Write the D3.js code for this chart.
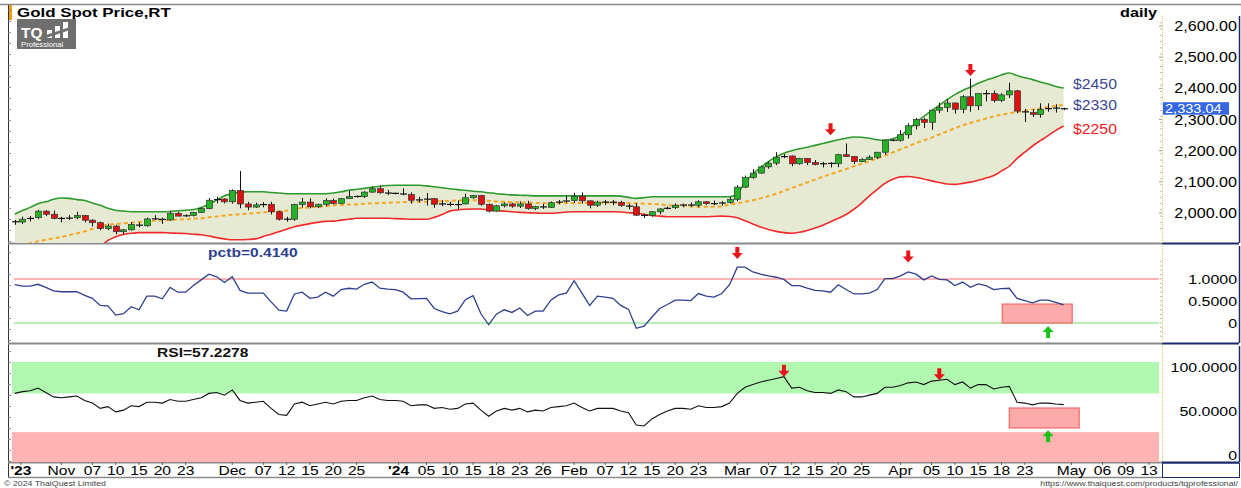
<!DOCTYPE html>
<html><head><meta charset="utf-8">
<script src="https://cdn.jsdelivr.net/npm/d3@7"></script>
<style>body{margin:0;background:#fff}svg{display:block}text{font-family:Arial,"Liberation Sans",sans-serif}</style>
</head><body><svg id="c" width="1241" height="488"></svg>
<script>
// ---------- DATA ----------
const dates = ["2023-10-24","2023-10-25","2023-10-26","2023-10-27","2023-10-30","2023-10-31","2023-11-01","2023-11-02","2023-11-03","2023-11-06","2023-11-07","2023-11-08","2023-11-09","2023-11-10","2023-11-13","2023-11-14","2023-11-15","2023-11-16","2023-11-17","2023-11-20","2023-11-21","2023-11-22","2023-11-23","2023-11-24","2023-11-27","2023-11-28","2023-11-29","2023-11-30","2023-12-01","2023-12-04","2023-12-05","2023-12-06","2023-12-07","2023-12-08","2023-12-11","2023-12-12","2023-12-13","2023-12-14","2023-12-15","2023-12-18","2023-12-19","2023-12-20","2023-12-21","2023-12-22","2023-12-25","2023-12-26","2023-12-27","2023-12-28","2023-12-29","2024-01-01","2024-01-02","2024-01-03","2024-01-04","2024-01-05","2024-01-08","2024-01-09","2024-01-10","2024-01-11","2024-01-12","2024-01-15","2024-01-16","2024-01-17","2024-01-18","2024-01-19","2024-01-22","2024-01-23","2024-01-24","2024-01-25","2024-01-26","2024-01-29","2024-01-30","2024-01-31","2024-02-01","2024-02-02","2024-02-05","2024-02-06","2024-02-07","2024-02-08","2024-02-09","2024-02-12","2024-02-13","2024-02-14","2024-02-15","2024-02-16","2024-02-19","2024-02-20","2024-02-21","2024-02-22","2024-02-23","2024-02-26","2024-02-27","2024-02-28","2024-02-29","2024-03-01","2024-03-04","2024-03-05","2024-03-06","2024-03-07","2024-03-08","2024-03-11","2024-03-12","2024-03-13","2024-03-14","2024-03-15","2024-03-18","2024-03-19","2024-03-20","2024-03-21","2024-03-22","2024-03-25","2024-03-26","2024-03-27","2024-03-28","2024-03-29","2024-04-01","2024-04-02","2024-04-03","2024-04-04","2024-04-05","2024-04-08","2024-04-09","2024-04-10","2024-04-11","2024-04-12","2024-04-15","2024-04-16","2024-04-17","2024-04-18","2024-04-19","2024-04-22","2024-04-23","2024-04-24","2024-04-25","2024-04-26","2024-04-29","2024-04-30"];
const open  = [1973,1971,1980,1985,2006,1996,1983,1982,1985,1992,1977,1969,1950,1958,1940,1946,1963,1959,1981,1981,1978,1999,1990,1992,2002,2014,2041,2045,2036,2072,2029,2019,2026,2028,2004,1980,1980,2027,2035,2020,2028,2040,2031,2046,2053,2053,2067,2078,2065,2063,2063,2059,2041,2043,2046,2028,2030,2025,2029,2049,2056,2028,2006,2023,2029,2022,2029,2014,2021,2018,2033,2037,2040,2054,2039,2025,2035,2035,2034,2024,2020,1993,1992,2004,2013,2017,2025,2026,2025,2036,2030,2030,2034,2044,2083,2114,2128,2148,2160,2179,2183,2158,2175,2162,2156,2160,2158,2187,2181,2165,2172,2179,2195,2234,2233,2251,2280,2300,2291,2330,2339,2353,2333,2373,2344,2383,2383,2361,2379,2392,2327,2322,2316,2333,2337,2336];
const high  = [1978,1988,1990,2010,2009,2008,1988,1993,2004,1994,1980,1972,1966,1962,1949,1971,1970,1985,1993,1985,2007,2004,1996,2004,2018,2048,2052,2047,2076,2135,2036,2033,2035,2036,2007,1988,2030,2048,2047,2030,2047,2046,2048,2071,2056,2070,2084,2088,2074,2065,2079,2066,2052,2064,2048,2041,2036,2041,2062,2058,2058,2030,2026,2034,2033,2037,2039,2023,2029,2037,2042,2055,2065,2066,2040,2040,2042,2042,2039,2029,2032,1997,2006,2015,2021,2031,2030,2034,2041,2038,2040,2038,2051,2089,2120,2141,2152,2165,2195,2189,2184,2177,2176,2170,2164,2163,2190,2223,2183,2176,2185,2195,2236,2237,2266,2288,2305,2305,2331,2354,2365,2354,2378,2431,2384,2394,2393,2384,2418,2395,2334,2333,2352,2352,2349,2338];
const low   = [1962,1965,1973,1980,1990,1980,1970,1978,1980,1970,1957,1945,1945,1932,1932,1944,1954,1956,1978,1965,1975,1990,1988,1989,2000,2012,2031,2031,2030,2015,2009,2016,2018,1995,1976,1972,1975,2017,2015,2016,2021,2028,2030,2045,2050,2048,2065,2062,2058,2060,2057,2030,2034,2024,2017,2022,2021,2013,2028,2046,2023,2002,2004,2018,2017,2016,2011,2009,2013,2017,2028,2032,2032,2030,2015,2020,2026,2025,2020,2012,1990,1984,1988,1996,2012,2013,2018,2020,2018,2026,2025,2024,2030,2038,2080,2110,2126,2142,2154,2176,2150,2155,2154,2153,2146,2146,2147,2180,2157,2163,2170,2173,2187,2230,2229,2239,2268,2273,2267,2320,2324,2319,2320,2325,2330,2358,2355,2356,2369,2320,2292,2308,2306,2325,2322,2330];
const close = [1971,1980,1985,2006,1996,1983,1982,1985,1992,1977,1969,1950,1958,1940,1946,1963,1959,1981,1981,1978,1999,1990,1992,2002,2014,2041,2045,2036,2072,2029,2019,2026,2028,2004,1980,1980,2027,2035,2020,2028,2040,2031,2046,2053,2053,2067,2078,2065,2063,2063,2059,2041,2043,2046,2028,2030,2025,2029,2049,2056,2028,2006,2023,2029,2022,2029,2014,2021,2018,2033,2037,2040,2054,2039,2025,2035,2035,2034,2024,2020,1993,1992,2004,2013,2017,2025,2026,2025,2036,2030,2030,2034,2044,2083,2114,2128,2148,2160,2179,2183,2158,2175,2162,2156,2160,2158,2187,2181,2165,2172,2179,2195,2234,2233,2251,2280,2300,2291,2330,2339,2353,2333,2373,2344,2383,2383,2361,2379,2392,2327,2322,2316,2333,2337,2336,2333.04];
const bbUpper = [1997,2008,2018,2030,2036,2044,2048,2047,2043,2040,2032,2025,2015,2009,2006,2004,2004,2004,2004,2004,2005,2007,2009,2011,2018,2028,2042,2055,2063,2067,2068,2068,2068,2066,2064,2062,2062,2062,2062,2062,2062,2064,2068,2073,2076,2079,2083,2086,2088,2089,2089,2089,2089,2087,2084,2081,2078,2075,2073,2070,2068,2065,2062,2060,2058,2057,2056,2055,2055,2055,2055,2055,2055,2055,2055,2055,2055,2055,2054,2050,2047,2049,2052,2052,2052,2052,2052,2052,2052,2052,2052,2052,2052,2062,2098,2125,2146,2165,2180,2192,2200,2206,2211,2217,2223,2229,2235,2240,2244,2243,2240,2235,2233,2238,2248,2268,2290,2310,2328,2346,2364,2380,2393,2404,2416,2426,2434,2443,2449,2441,2434,2428,2420,2414,2406,2401];
const bbMiddle = [1890,1897,1903,1909,1914,1919,1923,1929,1935,1941,1949,1957,1962,1965,1967,1969,1971,1973,1975,1976,1978,1979,1980,1982,1983,1986,1989,1992,1994,1996,1998,2000,2002,2004,2006,2008,2014,2016,2018,2020,2022,2025,2026,2027,2028,2030,2031,2032,2033,2034,2035,2036,2036,2036,2037,2038,2039,2040,2041,2041,2040,2039,2037,2036,2035,2034,2033,2032,2032,2031,2031,2031,2032,2032,2033,2033,2033,2033,2033,2032,2031,2030,2029,2028,2025,2024,2023,2021,2020,2020,2020,2022,2027,2031,2036,2041,2047,2054,2062,2071,2080,2089,2098,2107,2116,2125,2133,2141,2150,2158,2166,2175,2184,2194,2204,2214,2224,2233,2242,2252,2262,2272,2281,2289,2296,2303,2310,2315,2320,2324,2328,2332,2336,2340,2344,2347];
const bbLower = [1780,1790,1795,1800,1805,1815,1825,1840,1855,1868,1880,1892,1912,1924,1931,1935,1937,1937,1937,1937,1936,1935,1934,1932,1930,1926,1921,1917,1914,1914,1915,1917,1925,1932,1940,1948,1956,1961,1966,1970,1973,1974,1977,1980,1983,1983,1983,1983,1983,1982,1981,1980,1980,1980,1986,1995,2006,2010,2012,2013,2013,2010,2008,2006,2004,2002,2001,2000,1999,1999,2001,2003,2004,2004,2004,2004,2004,2004,2003,2001,1999,1996,1992,1990,1988,1988,1988,1988,1988,1988,1989,1990,1989,1985,1975,1965,1955,1947,1941,1937,1935,1938,1944,1952,1961,1972,1983,1995,2012,2032,2055,2075,2095,2108,2116,2117,2114,2109,2103,2098,2093,2092,2095,2099,2105,2112,2120,2135,2150,2175,2195,2215,2232,2248,2265,2279];
const pctb = [0.87,0.84,0.84,0.88,0.81,0.73,0.71,0.71,0.71,0.63,0.56,0.40,0.39,0.18,0.21,0.37,0.30,0.61,0.61,0.55,0.81,0.70,0.70,0.85,0.98,1.11,1.05,0.92,1.05,0.74,0.68,0.68,0.68,0.48,0.29,0.27,0.66,0.70,0.56,0.59,0.70,0.61,0.76,0.79,0.77,0.88,0.93,0.79,0.77,0.76,0.70,0.55,0.555,0.56,0.33,0.26,0.21,0.27,0.53,0.62,0.21,-0.04,0.20,0.30,0.24,0.34,0.17,0.27,0.27,0.52,0.64,0.68,0.96,0.68,0.40,0.61,0.59,0.56,0.40,0.31,-0.12,-0.07,0.13,0.33,0.42,0.52,0.52,0.51,0.67,0.61,0.59,0.67,0.87,1.27,1.27,1.16,1.11,1.07,1.04,0.99,0.85,0.85,0.79,0.74,0.73,0.70,0.87,0.76,0.66,0.66,0.68,0.76,1.01,1.01,1.07,1.16,1.11,0.98,1.07,0.99,0.98,0.85,0.93,0.81,0.89,0.85,0.76,0.78,0.79,0.56,0.51,0.46,0.52,0.52,0.47,0.414];
const rsi = [70,72,73,76,71,66,65,66,67,62,59,53,55,49,51,56,55,60,60,59,63,61,61,63,65,70,71,68,74,62,59,60,61,53,46,45,58,60,56,58,60,58,61,62,62,65,67,63,62,62,61,56,57,57,53,54,52,53,58,59,51,44,50,53,51,53,49,51,50,54,55,56,59,54,50,53,53,53,50,48,34,33,41,46,50,53,53,52,56,54,54,55,59,70,77,80,83,85,87,89,76,77,73,71,71,70,74,72,66,66,68,70,77,77,79,82,83,80,84,85,86,80,83,76,80,80,75,77,78,60,59,57,59,59,58,57.2278];
const priceTicks = [2000,2100,2200,2300,2400,2500,2600];
const pctbTicks = [0,0.5,1];
const rsiTicks = [0,50,100];
const rsiZones = [70,26];
// x-axis tick labels: [label, position in trading-day units]
const xTickLabels = [["'23",0.8],["Nov",6],["07",10],["10",13],["15",16],["20",19],["23",22],["Dec",28],["07",32],["12",35],["15",38],["20",41],["25",44],["'24",49.4],["05",53],["10",56],["15",59],["18",62],["23",65],["26",68],["Feb",72],["07",76],["12",79],["15",82],["20",85],["23",88],["Mar",93],["07",97],["12",100],["15",103],["20",106],["25",109],["Apr",114],["05",118],["10",121],["15",124],["18",127],["23",130],["May",136],["06",140],["09",143],["13",146]];
const priceTargets = ["$2450","$2330","$2250"];
const lastPrice = 2333.04;
const mainSell = [[105,2253],[123,2443]];
const pctbSell = [[93,1.48],[115,1.40]];
const rsiSell = [[99,90],[119,86]];
const pctbBuy = [[133,-0.09]];
const rsiBuy = [[133,27]];
const pctbBox = [127.1,136.1,0.43,0];
const rsiBox = [128,137,53.4,30.7];

// ---------- LAYOUT ----------
const svg = d3.select("#c");
const W = 1241, plotL = 9, plotR = 1162, axR = 1239;
const P1 = {t:20, b:243}, P2 = {t:246, b:343}, P3 = {t:346, b:462};
const N = close.length;
const x = d3.scaleLinear().domain([0, 135]).range([14.7, 14.7 + 135*7.77]);
const y1 = d3.scaleLinear().domain([2000, 2600]).range([213, 26]);
const y2 = d3.scaleLinear().domain([0, 1]).range([323, 279]);
const y3 = d3.scaleLinear().domain([0, 100]).range([455, 367]);

function txt(g, px, py, s, o) {
  o = o || {};
  return g.append("text").attr("transform", `translate(${px},${py}) scale(${o.sx||1.2},1)`)
    .attr("text-anchor", o.anchor || "start").attr("font-size", o.size || 13)
    .attr("font-weight", o.weight || "normal").attr("fill", o.fill || "#000").text(s);
}

const defs = svg.append("defs");
[["c1",P1],["c2",P2],["c3",P3]].forEach(([id,p]) => {
  defs.append("clipPath").attr("id", id).append("rect").attr("x", plotL).attr("y", p.t).attr("width", plotR-plotL).attr("height", p.b-p.t);
});

// frames
svg.append("line").attr("x1",0).attr("x2",W).attr("y1",4.5).attr("y2",4.5).attr("stroke","#8c8c8c").attr("stroke-width",1.5);
svg.append("rect").attr("x",9).attr("y",5).attr("width",3).attr("height",15).attr("fill","#f39c12");
svg.append("line").attr("x1",8.5).attr("x2",8.5).attr("y1",5).attr("y2",478).attr("stroke","#333").attr("stroke-width",1);
[P1,P2,P3].forEach(p => {
  svg.append("line").attr("x1",8).attr("x2",plotR).attr("y1",p.b+0.5).attr("y2",p.b+0.5).attr("stroke","#8a8a8a").attr("stroke-width",2);
  svg.append("line").attr("x1",plotR).attr("x2",axR).attr("y1",p.b+0.5).attr("y2",p.b+0.5).attr("stroke","#1a2a6c").attr("stroke-width",2);
  svg.append("line").attr("x1",plotR+0.5).attr("x2",plotR+0.5).attr("y1",p.t+(p===P1?-4:0)).attr("y2",p.b).attr("stroke","#e6c65a").attr("stroke-width",1).attr("stroke-dasharray","1,1");
  svg.append("line").attr("x1",axR+0.5).attr("x2",axR+0.5).attr("y1",p.t+(p===P1?-4:0)).attr("y2",p.b).attr("stroke","#1a2a6c").attr("stroke-width",1.5);
});
for (let yy = 10; yy < 462; yy += 11) svg.append("line").attr("x1",8).attr("x2",11).attr("y1",yy+0.5).attr("y2",yy+0.5).attr("stroke","#777").attr("stroke-width",0.8);

// ---------- MAIN PANEL ----------
const g1 = svg.append("g").attr("clip-path","url(#c1)");
const idx = d3.range(N);
g1.append("path").datum(idx).attr("fill","#e7ead3")
  .attr("d", d3.area().x(i=>x(i)).y0(i=>y1(bbLower[i])).y1(i=>y1(bbUpper[i])).curve(d3.curveMonotoneX));
g1.append("path").datum(idx).attr("fill","none").attr("stroke","#2e9a2e").attr("stroke-width",1.6)
  .attr("d", d3.line().x(i=>x(i)).y(i=>y1(bbUpper[i])).curve(d3.curveMonotoneX));
g1.append("path").datum(idx).attr("fill","none").attr("stroke","#ee2a2a").attr("stroke-width",1.6)
  .attr("d", d3.line().x(i=>x(i)).y(i=>y1(bbLower[i])).curve(d3.curveMonotoneX));
g1.append("path").datum(idx).attr("fill","none").attr("stroke","#f5a623").attr("stroke-width",2).attr("stroke-dasharray","4,3")
  .attr("d", d3.line().x(i=>x(i)).y(i=>y1(bbMiddle[i])).curve(d3.curveMonotoneX));
const cg = g1.append("g");
idx.forEach(i => {
  const cx = Math.round(x(i)) + 0.5;
  cg.append("line").attr("x1",cx).attr("x2",cx).attr("y1",y1(high[i])).attr("y2",y1(low[i])).attr("stroke","#111").attr("stroke-width",1);
  const yo = y1(open[i]), yc = y1(close[i]);
  const h = Math.abs(yo-yc);
  if (h < 1.6) {
    cg.append("line").attr("x1",cx-3.5).attr("x2",cx+3.5).attr("y1",(yo+yc)/2).attr("y2",(yo+yc)/2).attr("stroke","#111").attr("stroke-width",1.2);
  } else {
    cg.append("rect").attr("x",cx-3).attr("y",Math.min(yo,yc)).attr("width",6).attr("height",h)
      .attr("fill", close[i] > open[i] ? "#22b422" : "#e01010").attr("stroke","#333").attr("stroke-width",0.7);
  }
});
function downArrow(g, cx, ty) {
  g.append("path").attr("fill","#e8141a").attr("d",`M${cx-2},${ty-11}h4v6h3.5l-5.5,6l-5.5,-6h3.5z`);
}
function upArrow(g, cx, ty) {
  g.append("path").attr("fill","#16c416").attr("d",`M${cx-2},${ty+11}h4v-6h3.5l-5.5,-6l-5.5,6h3.5z`);
}
mainSell.forEach(([i,v]) => downArrow(svg, x(i), y1(v)));
const ends = [bbUpper[N-1], bbMiddle[N-1], bbLower[N-1]];
const endOff = [1, 5.5, 7.5];
const endCol = ["#3a4896","#3a4896","#ee2020"];
priceTargets.forEach((s,k) => txt(svg, 1073, y1(ends[k]) + endOff[k], s, {size:14, fill:endCol[k], sx:1.13}));
priceTicks.forEach(v => {
  txt(svg, 1237, y1(v)+5, d3.format(",.2f")(v), {size:14, anchor:"end", sx:1.15});
  svg.append("line").attr("x1",plotR-3).attr("x2",plotR).attr("y1",y1(v)).attr("y2",y1(v)).attr("stroke","#999");
});
d3.range(1950, 2620, 20).forEach(v => { if (y1(v) > 22 && y1(v) < 242) svg.append("line").attr("x1",plotR-2).attr("x2",plotR).attr("y1",y1(v)).attr("y2",y1(v)).attr("stroke","#bbb"); });
svg.append("rect").attr("x",1163).attr("y",y1(lastPrice)-7).attr("width",66).attr("height",12.5).attr("fill","#3467e0");
txt(svg, 1165, y1(lastPrice)+4, d3.format(",.2f")(lastPrice), {size:13, fill:"#fff", sx:1.12});
txt(svg, 17, 16.5, "Gold Spot Price,RT", {size:13, weight:"bold", sx:1.3});
txt(svg, 1120, 16.5, "daily", {size:13, weight:"bold", sx:1.25});
const lg = svg.append("g");
lg.append("rect").attr("x",17).attr("y",19).attr("width",59).attr("height",30).attr("fill","#6f6f6f");
txt(lg, 21, 38, "TQ", {size:14, weight:"bold", fill:"#fff", sx:1.1});
[[47,30,5,8],[55,26,5,12],[63,22,5,16]].forEach(([a,b,w,h]) => lg.append("rect").attr("x",a).attr("y",b).attr("width",w).attr("height",h).attr("fill","#fff"));
lg.append("path").attr("d","M46,35l24,-8v3l-24,8z").attr("fill","#6f6f6f");
txt(lg, 21, 46.5, "Professional", {size:7, fill:"#fff", sx:1.1});

// ---------- PCTB PANEL ----------
const g2 = svg.append("g").attr("clip-path","url(#c2)");
g2.append("line").attr("x1",14).attr("x2",plotR-3).attr("y1",y2(1)).attr("y2",y2(1)).attr("stroke","#ffb3b3").attr("stroke-width",2);
g2.append("line").attr("x1",14).attr("x2",plotR-3).attr("y1",y2(0)).attr("y2",y2(0)).attr("stroke","#b5f0b5").attr("stroke-width",2);
g2.append("rect").attr("x",x(pctbBox[0])).attr("y",y2(pctbBox[2])).attr("width",x(pctbBox[1])-x(pctbBox[0])).attr("height",y2(pctbBox[3])-y2(pctbBox[2]))
  .attr("fill","#ffaaaa").attr("stroke","#f06a6a").attr("stroke-width",1.2);
g2.append("path").datum(idx).attr("fill","none").attr("stroke","#2e3f8f").attr("stroke-width",1.3)
  .attr("d", d3.line().x(i=>x(i)).y(i=>y2(pctb[i])));
pctbSell.forEach(([i,v]) => downArrow(svg, x(i), y2(v)));
pctbBuy.forEach(([i,v]) => upArrow(svg, x(i), y2(v)));
txt(svg, 208, 257, "pctb=" + pctb[N-1].toFixed(4), {size:13, weight:"bold", fill:"#2e3f8f", sx:1.2});
pctbTicks.forEach(v => txt(svg, 1237, y2(v)+5, v === 0 ? "0" : d3.format(".4f")(v), {size:13.5, anchor:"end", sx:1.18}));
d3.range(-0.3, 1.45, 0.1).forEach(v => svg.append("line").attr("x1",plotR-2).attr("x2",plotR).attr("y1",y2(v)).attr("y2",y2(v)).attr("stroke","#bbb"));

// ---------- RSI PANEL ----------
const g3 = svg.append("g").attr("clip-path","url(#c3)");
g3.append("rect").attr("x",12).attr("width",plotR-3-12).attr("y",P3.t+16).attr("height",y3(rsiZones[0])-(P3.t+16)).attr("fill","#b0f7b0");
g3.append("rect").attr("x",12).attr("width",plotR-3-12).attr("y",y3(rsiZones[1])).attr("height",P3.b-y3(rsiZones[1])).attr("fill","#ffb3b3");
g3.append("rect").attr("x",x(rsiBox[0])).attr("y",y3(rsiBox[2])).attr("width",x(rsiBox[1])-x(rsiBox[0])).attr("height",y3(rsiBox[3])-y3(rsiBox[2]))
  .attr("fill","#ffaaaa").attr("stroke","#f06a6a").attr("stroke-width",1.2);
g3.append("path").datum(idx).attr("fill","none").attr("stroke","#111").attr("stroke-width",1.1)
  .attr("d", d3.line().x(i=>x(i)).y(i=>y3(rsi[i])));
rsiSell.forEach(([i,v]) => downArrow(svg, x(i), y3(v)));
rsiBuy.forEach(([i,v]) => upArrow(svg, x(i), y3(v)));
txt(svg, 157, 357, "RSI=" + rsi[N-1].toFixed(4), {size:13, weight:"bold", fill:"#111", sx:1.2});
rsiTicks.forEach(v => txt(svg, 1237, y3(v)+5, v === 0 ? "0" : d3.format(".4f")(v), {size:13.5, anchor:"end", sx:1.18}));

// ---------- X AXIS ----------
svg.append("line").attr("x1",8).attr("x2",plotR).attr("y1",477.5).attr("y2",477.5).attr("stroke","#8a8a8a").attr("stroke-width",1.5);
svg.append("rect").attr("x",plotR+0.5).attr("y",463).attr("width",axR-plotR).attr("height",14.5).attr("fill","none").attr("stroke","#1a2a6c").attr("stroke-width",1);
xTickLabels.forEach(([s,i]) => {
  txt(svg, x(i), 475, s, {size:13, anchor:"middle", weight: s.startsWith("'") ? "bold" : "normal", sx:1.2});
  svg.append("line").attr("x1",x(i)).attr("x2",x(i)).attr("y1",462).attr("y2",465).attr("stroke","#666");
});
txt(svg, 4, 486, "© 2024 ThaiQuest Limited", {size:8, fill:"#444", sx:1.1});
txt(svg, 1238, 486, "https://www.thaiquest.com/products/tqprofessional/", {size:8, fill:"#444", anchor:"end", sx:1.1});
</script></body></html>
